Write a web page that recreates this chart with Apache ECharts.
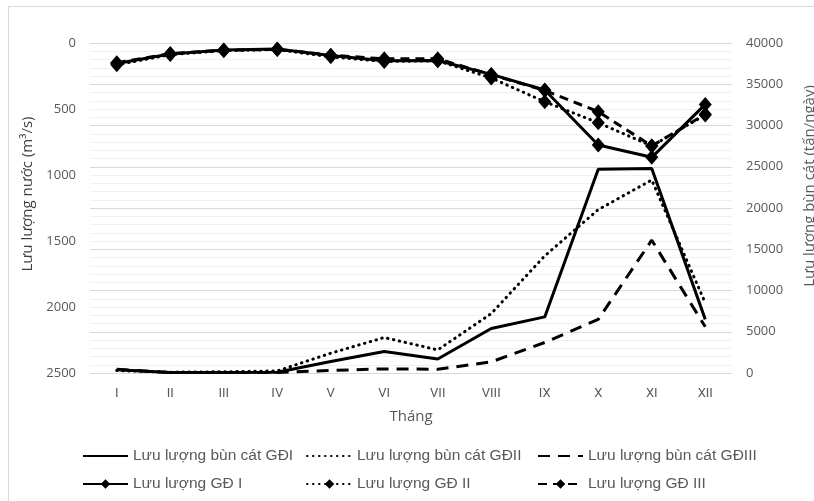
<!DOCTYPE html>
<html>
<head>
<meta charset="utf-8">
<script src="https://cdn.jsdelivr.net/npm/echarts@6/dist/echarts.min.js"></script>
<style>
html,body{margin:0;padding:0;background:#fff;}
#chart{width:814px;height:501px;}
</style>
</head>
<body>
<div id="chart"></div>
<script>
const months = ['I','II','III','IV','V','VI','VII','VIII','IX','X','XI','XII'];
const leftTicks = [0, 500, 1000, 1500, 2000, 2500];
const rightTicks = [0, 5000, 10000, 15000, 20000, 25000, 30000, 35000, 40000];

// Sediment discharge (tấn/ngày) - right axis
const sedI   = [400, 50, 50, 100, 1400, 2600, 1700, 5400, 6800, 24700, 24800, 6500];
const sedII  = [300, 100, 150, 250, 2400, 4300, 2800, 7200, 14200, 19800, 23400, 8500];
const sedIII = [450, 50, 50, 60, 300, 500, 450, 1350, 3700, 6500, 16100, 5600];

// Water discharge (m3/s) - left axis (inverted)
const flowI   = [155, 83, 53, 45, 95, 134, 132, 238, 356, 773, 866, 465];
const flowII  = [165, 88, 58, 50, 105, 140, 135, 265, 445, 604, 780, 545];
const flowIII = [150, 80, 55, 48, 92, 120, 120, 240, 360, 520, 780, 540];

const names = ['Lưu lượng bùn cát GĐI','Lưu lượng bùn cát GĐII','Lưu lượng bùn cát GĐIII',
               'Lưu lượng GĐ I','Lưu lượng GĐ II','Lưu lượng GĐ III'];

const gray = '#595959';
const numFont = 'Open Sans';
const chart = echarts.init(document.getElementById('chart'), null, {renderer:'canvas'});

const dotted = {type:[0.5,5.5], cap:'round', width:3, color:'#000'};
const dashedSed = {type:[12,8], width:3, color:'#000'};
const dashedFlow = {type:[9,6], width:3, color:'#000'};
const solid = {type:'solid', width:3, color:'#000'};

function legendAt(name, left, top, hideSymbol){
  const l = {
    data:[name], left:left, top:top, orient:'horizontal',
    itemWidth:45, itemHeight:12, padding:0, selectedMode:false,
    textStyle:{color:gray, fontFamily:'Liberation Sans', fontSize:15.5}
  };
  if (hideSymbol) l.itemStyle = {color:'rgba(0,0,0,0)', borderColor:'rgba(0,0,0,0)', borderWidth:0};
  return l;
}

const plain = v => String(v);

const option = {
  animation:false,
  backgroundColor:'#fff',
  graphic:[{type:'rect', shape:{x:8.5,y:6.5,width:830,height:600}, style:{fill:'none', stroke:'#d9d9d9', lineWidth:1}, silent:true}],
  grid:{left:90, right:82, top:43, bottom:128, outerBoundsMode:'none', containLabel:false},
  legend:[
    legendAt(names[0], 82, 448, true),
    legendAt(names[1], 306, 448, true),
    legendAt(names[2], 537, 448, true),
    legendAt(names[3], 82, 476, false),
    legendAt(names[4], 306, 476, false),
    legendAt(names[5], 537, 476, false)
  ],
  xAxis:{
    type:'category', data:months, boundaryGap:true,
    axisLine:{show:false}, axisTick:{show:false},
    axisLabel:{color:gray, fontFamily:'Roboto', fontSize:13, margin:14},
    name:'Tháng', nameLocation:'middle', nameGap:36,
    nameTextStyle:{color:gray, fontFamily:numFont, fontSize:15}
  },
  yAxis:[
    {
      type:'value', position:'left', inverse:true, min:leftTicks[0], max:leftTicks[leftTicks.length-1], interval:500,
      axisLine:{show:false}, axisTick:{show:false}, splitLine:{show:false},
      axisLabel:{color:gray, fontFamily:numFont, fontSize:13, margin:14, formatter:plain},
      name:'Lưu lượng nước (m³/s)', nameLocation:'middle', nameRotate:90, nameGap:52,
      nameTextStyle:{color:'#404040', fontFamily:numFont, fontSize:15, padding:[0,0,0,28]}
    },
    {
      type:'value', position:'right', min:rightTicks[0], max:rightTicks[rightTicks.length-1], interval:5000,
      axisLine:{show:false}, axisTick:{show:false},
      splitLine:{show:true, lineStyle:{color:'#d9d9d9', width:1}},
      minorTick:{show:false, splitNumber:5},
      minorSplitLine:{show:true, lineStyle:{color:'#f0f0f0', width:1}},
      axisLabel:{color:gray, fontFamily:numFont, fontSize:13, margin:14, formatter:plain},
      name:'Lưu lượng bùn cát (tấn/ngày)', nameLocation:'middle', nameRotate:90, nameGap:70,
      nameTextStyle:{color:gray, fontFamily:numFont, fontSize:15, padding:[0,0,0,44]}
    }
  ],
  series:[
    {name:names[0], type:'line', yAxisIndex:1, data:sedI, symbol:'none', lineStyle:solid, itemStyle:{color:'#000'}},
    {name:names[1], type:'line', yAxisIndex:1, data:sedII, symbol:'none', lineStyle:dotted, itemStyle:{color:'#000'}},
    {name:names[2], type:'line', yAxisIndex:1, data:sedIII, symbol:'none', lineStyle:dashedSed, itemStyle:{color:'#000'}},
    {name:names[3], type:'line', yAxisIndex:0, data:flowI, symbol:'diamond', symbolSize:[13,15], showSymbol:true, lineStyle:solid, itemStyle:{color:'#000'}},
    {name:names[4], type:'line', yAxisIndex:0, data:flowII, symbol:'diamond', symbolSize:[13,15], showSymbol:true, lineStyle:dotted, itemStyle:{color:'#000'}},
    {name:names[5], type:'line', yAxisIndex:0, data:flowIII, symbol:'diamond', symbolSize:[13,15], showSymbol:true, lineStyle:dashedFlow, itemStyle:{color:'#000'}}
  ]
};
chart.setOption(option);
</script>
</body>
</html>
